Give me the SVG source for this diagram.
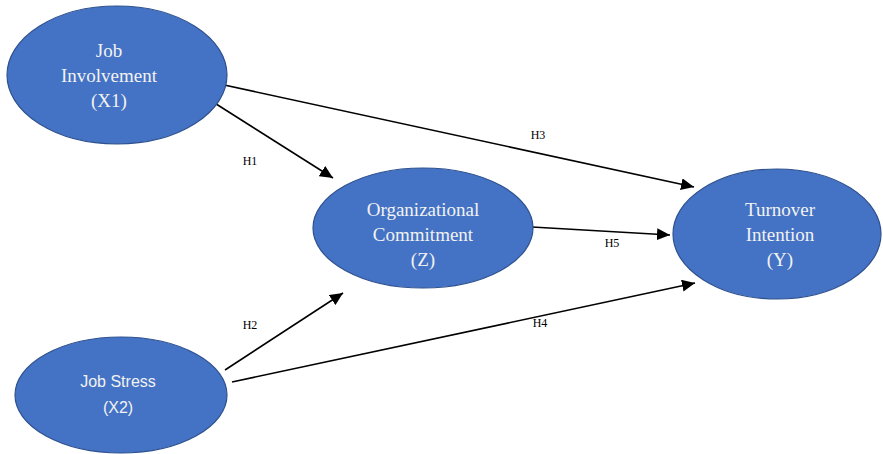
<svg xmlns="http://www.w3.org/2000/svg" width="883" height="454" viewBox="0 0 883 454">
<style>
.node ellipse{fill:#4472C4;stroke:#2F528F;stroke-width:1.2}
.serif{font-family:"Liberation Serif","Times New Roman",serif;font-size:19px;fill:#F2F2F2;text-anchor:middle}
.sans{font-family:"Liberation Sans",Arial,sans-serif;font-size:16px;fill:#F2F2F2;text-anchor:middle}
.lbl{font-family:"Liberation Serif","Times New Roman",serif;font-size:12px;fill:#000;text-anchor:middle}
.edge{stroke:#000;stroke-width:1.6;fill:none;marker-end:url(#arr)}
</style>
<defs>
<marker id="arr" markerUnits="userSpaceOnUse" markerWidth="14" markerHeight="12" refX="13" refY="6" orient="auto">
<path d="M0,0 L13,6 L0,12 Z" fill="#000"/>
</marker>
</defs>
<rect width="883" height="454" fill="#fff"/>
<g id="connectors">
<line class="edge" x1="213" y1="102" x2="333" y2="178"/>
<line class="edge" x1="215" y1="83" x2="694" y2="187"/>
<line class="edge" x1="225" y1="370" x2="343" y2="293"/>
<line class="edge" x1="232" y1="382" x2="695" y2="283"/>
<line class="edge" x1="532" y1="227" x2="670" y2="235"/>
<text class="lbl" x="250" y="165">H1</text>
<text class="lbl" x="250" y="329">H2</text>
<text class="lbl" x="538" y="139">H3</text>
<text class="lbl" x="540" y="327">H4</text>
<text class="lbl" x="612" y="247">H5</text>
</g>
<g id="x1" class="node">
<ellipse cx="117" cy="75" rx="110" ry="69"/>
<text class="serif" x="109" y="57">Job</text>
<text class="serif" x="109" y="82">Involvement</text>
<text class="serif" x="109" y="107">(X1)</text>
</g>
<g id="z" class="node">
<ellipse cx="423" cy="228" rx="110" ry="60"/>
<text class="serif" x="423" y="216">Organizational</text>
<text class="serif" x="423" y="241">Commitment</text>
<text class="serif" x="423" y="266">(Z)</text>
</g>
<g id="y" class="node">
<ellipse cx="777" cy="234" rx="104" ry="65"/>
<text class="serif" x="780" y="216">Turnover</text>
<text class="serif" x="780" y="241">Intention</text>
<text class="serif" x="780" y="266">(Y)</text>
</g>
<g id="x2" class="node">
<ellipse cx="121" cy="395" rx="106" ry="58"/>
<text class="sans" x="118" y="387">Job Stress</text>
<text class="sans" x="118" y="413">(X2)</text>
</g>
</svg>
